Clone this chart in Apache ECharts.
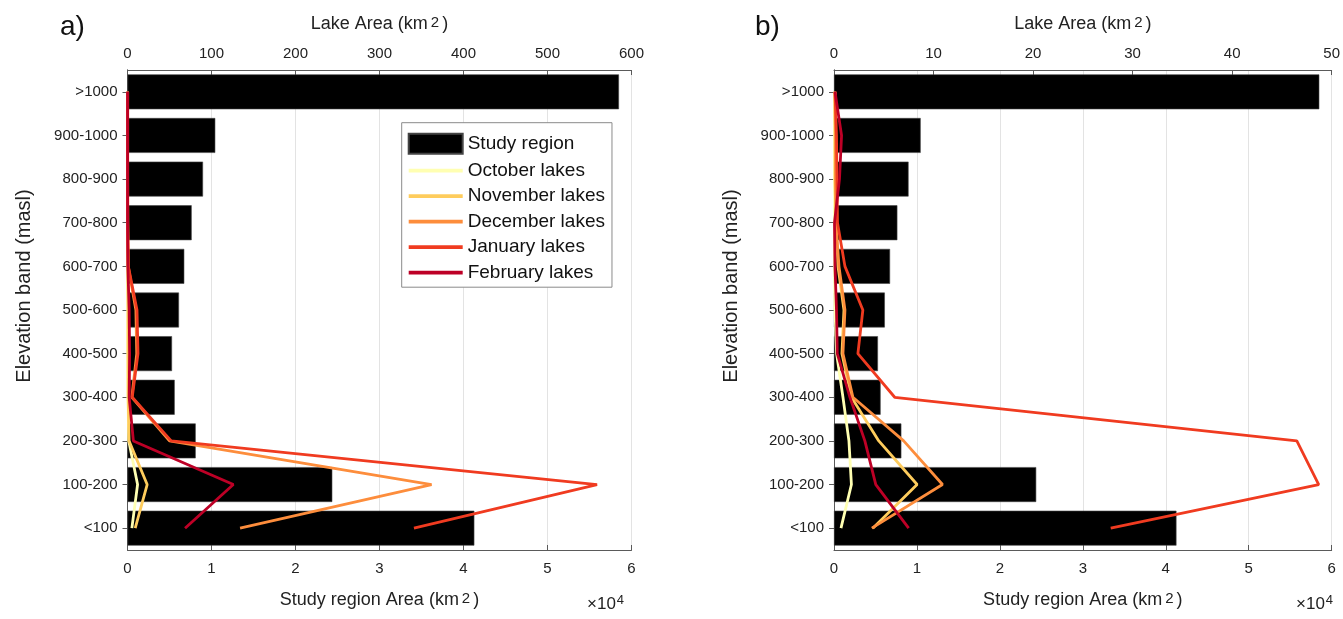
<!DOCTYPE html>
<html>
<head>
<meta charset="utf-8">
<script src="https://cdn.jsdelivr.net/npm/echarts@6/dist/echarts.min.js"></script>
<style>
html,body{margin:0;padding:0;background:#fff;}
#chart{width:1343px;height:619px;}
</style>
</head>
<body>
<div id="chart"></div>
<script>
// ---- data ----
const categories = ['>1000','900-1000','800-900','700-800','600-700','500-600','400-500','300-400','200-300','100-200','<100'];
const studyRegion = [58510,10450,8990,7640,6760,6130,5300,5620,8120,24380,41290];
const studyTicks = [0,1,2,3,4,5,6];
// panel a (lake area, km2)
const octA = [0.1,0.1,0.1,0.1,0.2,0.4,0.4,0.5,1.5,12,5.2];
const novA = [0.1,0.1,0.1,0.2,0.3,0.6,0.6,0.8,1.8,23.4,9.2];
const decA = [0.2,0.2,0.2,0.3,0.8,10,11,5.2,50,362,134];
const janA = [0.2,0.2,0.2,0.3,1,11.3,12.5,5.6,52,559,341];
const febA = [0.1,0.1,0.1,0.1,0.4,2,2.5,2,7,126,68.5];
// panel b (lake area, km2)
const octB = [0.05,0.05,0.05,0.05,0.05,0.1,0.26,0.9,1.5,1.75,0.7];
const novB = [0.1,0.1,0.1,0.2,0.4,1.0,0.8,1.75,4.5,8.35,3.9];
const decB = [0.1,0.15,0.15,0.2,0.5,1.1,0.9,1.9,7.0,10.9,3.8];
const janB = [0.1,0.25,0.3,0.35,1.1,2.9,2.4,6.1,46.5,48.7,27.8];
const febB = [0.1,0.76,0.55,0.05,0.1,0.25,0.33,1.6,3.1,4.2,7.5];

const monthNames = ['October lakes','November lakes','December lakes','January lakes','February lakes'];
const monthColors = ['#ffffb2','#fecc5c','#fd8d3c','#f03b20','#bd0026'];

const FONT = 'Liberation Sans, Arial, Helvetica, sans-serif';
const AX = '#5a5a5a';
const supRich = {
  sup: {fontSize: 15, fontFamily: FONT, color: '#222', verticalAlign: 'top', lineHeight: 15, padding: [0, 3, 8, 3]}
};

function bottomAxis(gridIndex) {
  return {
    type: 'value', gridIndex, position: 'bottom', min: 0, max: 60000, interval: 10000,
    name: 'Study region Area (km{sup|2})', nameLocation: 'middle', nameGap: 41,
    nameTextStyle: {fontSize: 18, fontFamily: FONT, color: '#222', rich: supRich},
    axisLine: {show: true, lineStyle: {color: AX}},
    axisTick: {show: true, inside: true, length: 5, lineStyle: {color: AX}},
    axisLabel: {fontSize: 15, fontFamily: FONT, color: '#222', margin: 11,
      formatter: v => String(studyTicks[Math.round(v / 10000)])},
    splitLine: {show: true, lineStyle: {color: '#e3e3e3', width: 1}}
  };
}
function topAxis(gridIndex, max, interval) {
  return {
    type: 'value', gridIndex, position: 'top', min: 0, max, interval,
    name: 'Lake Area (km{sup|2})', nameLocation: 'middle', nameGap: 37,
    nameTextStyle: {fontSize: 18, fontFamily: FONT, color: '#222', rich: supRich},
    axisLine: {show: true, lineStyle: {color: AX}},
    axisTick: {show: true, inside: true, length: 5, lineStyle: {color: AX}},
    axisLabel: {fontSize: 15, fontFamily: FONT, color: '#222', margin: 9},
    splitLine: {show: false}
  };
}
function leftAxis(gridIndex) {
  return {
    type: 'category', gridIndex, position: 'left', data: categories, inverse: true,
    name: 'Elevation band (masl)', nameLocation: 'middle', nameGap: 93,
    nameTextStyle: {fontSize: 20, fontFamily: FONT, color: '#222', padding: [0, 0, 0, 48]},
    axisLine: {show: true, lineStyle: {color: AX}},
    axisTick: {show: true, inside: true, length: 5, alignWithLabel: true, lineStyle: {color: AX}},
    axisLabel: {fontSize: 15, fontFamily: FONT, color: '#222', margin: 10, padding: [4, 0, 0, 0]}
  };
}
function rightAxis(gridIndex) {
  return {
    type: 'category', gridIndex, position: 'right', data: categories, inverse: true,
    axisLine: {show: true, lineStyle: {color: AX}},
    axisTick: {show: true, inside: true, length: 5, alignWithLabel: true, lineStyle: {color: AX}},
    axisLabel: {show: false}
  };
}

function lineSeries(name, color, values, xAxisIndex, yAxisIndex, z) {
  return {
    type: 'line', name, xAxisIndex, yAxisIndex, z,
    data: values.map((v, i) => [v, categories[i]]),
    symbol: 'none', smooth: false,
    lineStyle: {color, width: 2.8}, itemStyle: {color},
    emphasis: {disabled: true}
  };
}
function barSeries(xAxisIndex, yAxisIndex) {
  return {
    type: 'bar', name: 'Study region', xAxisIndex, yAxisIndex, z: 1,
    data: studyRegion, barCategoryGap: '20%',
    itemStyle: {color: '#000', borderColor: '#444', borderWidth: 0.6},
    emphasis: {disabled: true}
  };
}

const panelA = [octA, novA, decA, janA, febA];
const panelB = [octB, novB, decB, janB, febB];
const series = [barSeries(0, 0), barSeries(2, 2)];
panelA.forEach((vals, k) => series.push(lineSeries(monthNames[k], monthColors[k], vals, 1, 0, 3 + k)));
panelB.forEach((vals, k) => series.push(lineSeries(monthNames[k], monthColors[k], vals, 3, 2, 3 + k)));

const lineIcon = 'path://M0,0H54V3.8H0Z';

const option = {
  animation: false,
  backgroundColor: '#fff',
  textStyle: {fontFamily: FONT},
  grid: [
    {left: 127.5, top: 70, width: 504, height: 486.7, containLabel: false},
    {left: 834, top: 70, width: 505, height: 486.7, containLabel: false}
  ],
  xAxis: [bottomAxis(0), topAxis(0, 600, 100), bottomAxis(1), topAxis(1, 50, 10)],
  yAxis: [leftAxis(0), rightAxis(0), leftAxis(1), rightAxis(1)],
  legend: {
    orient: 'vertical', left: 401.7, top: 122.7,
    padding: [10, 7, 5, 6], itemGap: 6.5, itemWidth: 54, itemHeight: 20,
    backgroundColor: '#fff', borderColor: '#8a8a8a', borderWidth: 1, borderRadius: 0,
    z: 20, symbolKeepAspect: true,
    textStyle: {fontSize: 19, fontFamily: FONT, color: '#111'},
    selectedMode: false,
    data: [{name: 'Study region', icon: 'rect'}].concat(monthNames.map(n => ({name: n, icon: lineIcon})))
  },
  graphic: [
    {type: 'text', left: 60, top: 13, style: {text: 'a)', fontSize: 28, fontFamily: FONT, fill: '#111'}},
    {type: 'text', left: 755, top: 13, style: {text: 'b)', fontSize: 28, fontFamily: FONT, fill: '#111'}},
    {type: 'text', left: 587, top: 594, style: {text: '×10{s|4}', fontSize: 17, fontFamily: FONT, fill: '#222',
      rich: {s: {fontSize: 13, fontFamily: FONT, fill: '#222', verticalAlign: 'top', padding: [0, 0, 8, 1]}}}},
    {type: 'text', left: 1296, top: 594, style: {text: '×10{s|4}', fontSize: 17, fontFamily: FONT, fill: '#222',
      rich: {s: {fontSize: 13, fontFamily: FONT, fill: '#222', verticalAlign: 'top', padding: [0, 0, 8, 1]}}}}
  ],
  series
};

const chart = echarts.init(document.getElementById('chart'), null, {renderer: 'canvas'});
chart.setOption(option);
</script>
</body>
</html>
